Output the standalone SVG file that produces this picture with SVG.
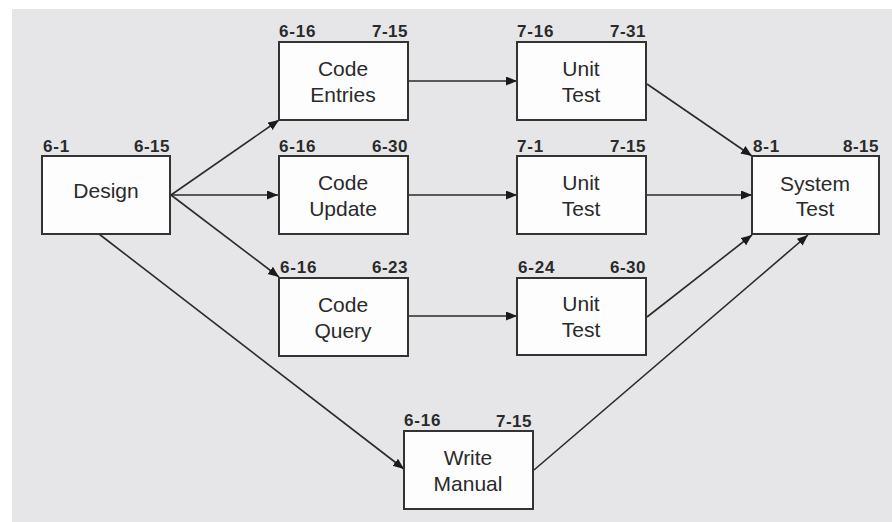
<svg xmlns="http://www.w3.org/2000/svg" width="892" height="522" viewBox="0 0 892 522">
<style>
.box{fill:#fdfdfd;stroke:#333;stroke-width:2}
.t{font-family:"Liberation Sans",Arial,sans-serif;font-size:21px;fill:#2a2a2a;text-anchor:middle}
.d{font-family:"Liberation Sans",Arial,sans-serif;font-size:17px;font-weight:bold;fill:#2a2a2a;letter-spacing:0.8px}
.e{text-anchor:end;letter-spacing:0.5px}
.c{fill:none;stroke:#2a2a2a;stroke-width:1.6;marker-end:url(#ah)}
</style>
<defs>
<marker id="ah" markerWidth="12" markerHeight="10" refX="11" refY="4.5" orient="auto" markerUnits="userSpaceOnUse">
<path d="M0,0 L11,4.5 L0,9 Z" fill="#1a1a1a"/>
</marker>
</defs>
<rect x="12" y="9" width="880" height="513" fill="#e6e6e8"/>
<g id="connectors">
<line class="c" x1="171" y1="195" x2="279" y2="120"/>
<line class="c" x1="171" y1="195" x2="278" y2="195"/>
<line class="c" x1="171" y1="195" x2="279" y2="277"/>
<line class="c" x1="99" y1="234" x2="404" y2="469"/>
<line class="c" x1="408" y1="81" x2="517" y2="81"/>
<line class="c" x1="408" y1="195" x2="517" y2="195"/>
<line class="c" x1="408" y1="316" x2="517" y2="316"/>
<line class="c" x1="647" y1="84" x2="752" y2="156"/>
<line class="c" x1="647" y1="195" x2="752" y2="195"/>
<line class="c" x1="647" y1="317" x2="752" y2="235"/>
<line class="c" x1="534" y1="470" x2="808" y2="235"/>
</g>
<g id="design">
<rect class="box" x="42" y="156" width="128" height="78"/>
<text class="t" x="106" y="198">Design</text>
<text class="d" x="43" y="152">6-1</text>
<text class="d e" x="170" y="152">6-15</text>
</g>
<g id="code-entries">
<rect class="box" x="279" y="42" width="129" height="78"/>
<text class="t" x="343" y="76">Code</text>
<text class="t" x="343" y="102">Entries</text>
<text class="d" x="279" y="37">6-16</text>
<text class="d e" x="408" y="37">7-15</text>
</g>
<g id="code-update">
<rect class="box" x="279" y="156" width="129" height="78"/>
<text class="t" x="343" y="190">Code</text>
<text class="t" x="343" y="216">Update</text>
<text class="d" x="279" y="152">6-16</text>
<text class="d e" x="408" y="152">6-30</text>
</g>
<g id="code-query">
<rect class="box" x="279" y="278" width="129" height="78"/>
<text class="t" x="343" y="312">Code</text>
<text class="t" x="343" y="338">Query</text>
<text class="d" x="280" y="273">6-16</text>
<text class="d e" x="408" y="273">6-23</text>
</g>
<g id="unit-test-1">
<rect class="box" x="517" y="42" width="129" height="78"/>
<text class="t" x="581" y="76">Unit</text>
<text class="t" x="581" y="102">Test</text>
<text class="d" x="517" y="37">7-16</text>
<text class="d e" x="646" y="37">7-31</text>
</g>
<g id="unit-test-2">
<rect class="box" x="517" y="156" width="129" height="78"/>
<text class="t" x="581" y="190">Unit</text>
<text class="t" x="581" y="216">Test</text>
<text class="d" x="517" y="152">7-1</text>
<text class="d e" x="646" y="152">7-15</text>
</g>
<g id="unit-test-3">
<rect class="box" x="517" y="278" width="129" height="77"/>
<text class="t" x="581" y="311">Unit</text>
<text class="t" x="581" y="337">Test</text>
<text class="d" x="518" y="273">6-24</text>
<text class="d e" x="646" y="273">6-30</text>
</g>
<g id="system-test">
<rect class="box" x="752" y="156" width="127" height="78"/>
<text class="t" x="815" y="191">System</text>
<text class="t" x="815" y="216">Test</text>
<text class="d" x="753" y="152">8-1</text>
<text class="d e" x="879" y="152">8-15</text>
</g>
<g id="write-manual">
<rect class="box" x="404" y="431" width="129" height="78"/>
<text class="t" x="468" y="465">Write</text>
<text class="t" x="468" y="491">Manual</text>
<text class="d" x="404" y="426">6-16</text>
<text class="d e" x="532" y="427">7-15</text>
</g>
</svg>
